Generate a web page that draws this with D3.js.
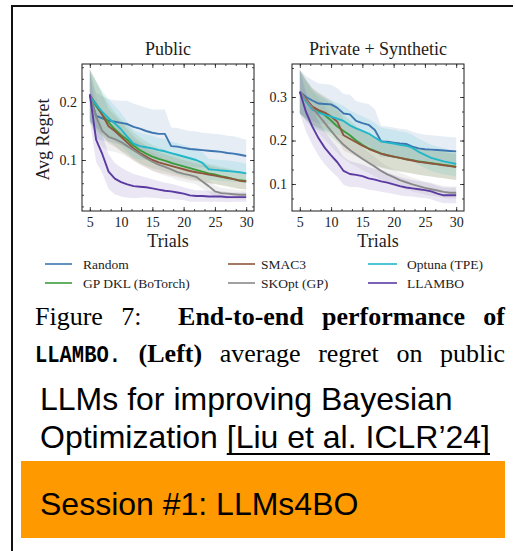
<!DOCTYPE html>
<html>
<head>
<meta charset="utf-8">
<script src="https://cdn.jsdelivr.net/npm/d3@7"></script>
<style>
  body { margin: 0; background: #fff; }
  svg { display: block; }
</style>
</head>
<body>
<svg id="fig" width="515" height="551"></svg>
<script>
// ---- data -------------------------------------------------------------
const trials = [5,6,7,8,9,10,11,12,13,14,15,16,17,18,19,20,21,22,23,24,25,26,27,28,29,30];
const xTickLabels = [5, 10, 15, 20, 25, 30];
const yTicksPublic = [0.1, 0.2];
const yTicksPrivate = [0.1, 0.2, 0.3];

const methods = ["Random", "SMAC3", "Optuna (TPE)", "GP DKL (BoTorch)", "SKOpt (GP)", "LLAMBO"];
const methodColors = ["#3d76b0", "#8f563d", "#22b6c9", "#3c9c3c", "#8a8a8a", "#5b3aa2"];

// Public benchmark: mean regret per trial
const pubRandom = [0.213,0.176,0.172,0.168,0.166,0.164,0.162,0.157,0.154,0.150,0.147,0.145,0.145,0.124,0.123,0.121,0.119,0.118,0.117,0.116,0.115,0.114,0.112,0.111,0.109,0.107];
const pubSMAC3  = [0.212,0.196,0.178,0.158,0.150,0.140,0.130,0.120,0.112,0.106,0.100,0.096,0.093,0.090,0.087,0.084,0.081,0.079,0.077,0.075,0.073,0.071,0.069,0.067,0.064,0.063];
const pubOptuna = [0.210,0.196,0.183,0.172,0.163,0.153,0.140,0.128,0.124,0.122,0.120,0.117,0.115,0.112,0.109,0.106,0.103,0.100,0.095,0.084,0.083,0.082,0.081,0.080,0.079,0.077];
const pubGPDKL  = [0.210,0.193,0.178,0.165,0.153,0.143,0.135,0.125,0.117,0.111,0.106,0.102,0.099,0.095,0.092,0.089,0.086,0.083,0.080,0.077,0.075,0.072,0.070,0.067,0.065,0.064];
const pubSKOpt  = [0.212,0.175,0.150,0.140,0.136,0.131,0.124,0.117,0.110,0.103,0.097,0.092,0.088,0.084,0.079,0.076,0.074,0.071,0.063,0.055,0.046,0.043,0.042,0.041,0.040,0.040];
const pubLLAMBO = [0.213,0.135,0.110,0.080,0.068,0.062,0.058,0.055,0.054,0.053,0.051,0.049,0.047,0.046,0.044,0.042,0.039,0.038,0.038,0.037,0.037,0.037,0.036,0.036,0.036,0.036];

// Public benchmark: half-width of the shaded band
const pubRandomSpread = [0.040,0.040,0.038,0.037,0.037,0.038,0.040,0.040,0.040,0.040,0.040,0.042,0.042,0.032,0.032,0.031,0.031,0.031,0.030,0.030,0.030,0.030,0.030,0.030,0.029,0.028];
const pubSMAC3Spread  = [0.045,0.040,0.035,0.030,0.027,0.025,0.023,0.021,0.020,0.019,0.018,0.018,0.017,0.017,0.016,0.016,0.016,0.015,0.015,0.015,0.015,0.014,0.014,0.014,0.014,0.014];
const pubOptunaSpread = [0.045,0.040,0.036,0.033,0.030,0.028,0.026,0.024,0.023,0.022,0.022,0.021,0.021,0.020,0.020,0.020,0.019,0.019,0.019,0.018,0.018,0.018,0.018,0.018,0.017,0.017];
const pubGPDKLSpread  = [0.045,0.042,0.037,0.032,0.029,0.027,0.025,0.023,0.022,0.021,0.020,0.019,0.019,0.018,0.018,0.018,0.017,0.017,0.017,0.016,0.016,0.016,0.016,0.016,0.015,0.015];
const pubSKOptSpread  = [0.045,0.035,0.028,0.024,0.022,0.020,0.019,0.018,0.017,0.016,0.016,0.015,0.015,0.014,0.014,0.013,0.013,0.013,0.012,0.011,0.010,0.009,0.009,0.008,0.008,0.008];
const pubLLAMBOSpread = [0.045,0.038,0.033,0.030,0.027,0.025,0.023,0.021,0.019,0.017,0.016,0.015,0.014,0.013,0.012,0.011,0.011,0.010,0.010,0.009,0.009,0.009,0.009,0.008,0.008,0.008];

// Private + synthetic benchmark: mean regret per trial
const prvRandom = [0.312,0.300,0.292,0.285,0.284,0.283,0.275,0.262,0.260,0.245,0.240,0.236,0.224,0.198,0.197,0.195,0.193,0.192,0.186,0.182,0.180,0.179,0.178,0.177,0.176,0.175];
const prvSMAC3  = [0.312,0.295,0.278,0.270,0.264,0.255,0.243,0.212,0.204,0.196,0.188,0.181,0.175,0.170,0.166,0.163,0.160,0.157,0.154,0.151,0.149,0.147,0.145,0.143,0.141,0.139];
const prvOptuna = [0.312,0.290,0.271,0.264,0.259,0.255,0.250,0.245,0.235,0.228,0.222,0.216,0.207,0.198,0.195,0.193,0.190,0.188,0.183,0.174,0.167,0.160,0.156,0.152,0.149,0.146];
const prvGPDKL  = [0.312,0.293,0.277,0.268,0.258,0.246,0.232,0.222,0.212,0.200,0.190,0.182,0.176,0.170,0.166,0.163,0.160,0.157,0.155,0.152,0.150,0.148,0.146,0.144,0.142,0.140];
const prvSKOpt  = [0.312,0.293,0.275,0.258,0.240,0.222,0.205,0.190,0.178,0.168,0.158,0.149,0.140,0.130,0.122,0.116,0.109,0.104,0.099,0.095,0.091,0.088,0.085,0.082,0.080,0.080];
const prvLLAMBO = [0.312,0.265,0.232,0.205,0.183,0.166,0.150,0.130,0.123,0.121,0.118,0.113,0.110,0.106,0.103,0.099,0.095,0.092,0.090,0.088,0.086,0.083,0.078,0.074,0.074,0.074];

// Private + synthetic benchmark: half-width of the shaded band
const prvRandomSpread = [0.050,0.048,0.047,0.046,0.046,0.045,0.045,0.045,0.045,0.046,0.047,0.048,0.048,0.036,0.035,0.035,0.034,0.034,0.034,0.034,0.033,0.033,0.033,0.032,0.032,0.032];
const prvSMAC3Spread  = [0.050,0.045,0.042,0.040,0.038,0.037,0.036,0.035,0.034,0.033,0.033,0.032,0.032,0.032,0.031,0.031,0.031,0.030,0.030,0.030,0.030,0.030,0.030,0.030,0.030,0.030];
const prvOptunaSpread = [0.050,0.045,0.042,0.040,0.038,0.037,0.036,0.035,0.034,0.034,0.034,0.033,0.033,0.032,0.032,0.032,0.031,0.031,0.030,0.030,0.030,0.030,0.030,0.030,0.029,0.029];
const prvGPDKLSpread  = [0.050,0.046,0.043,0.041,0.039,0.038,0.037,0.036,0.035,0.034,0.034,0.033,0.033,0.032,0.032,0.032,0.031,0.031,0.031,0.031,0.031,0.031,0.031,0.031,0.031,0.031];
const prvSKOptSpread  = [0.050,0.045,0.042,0.040,0.038,0.036,0.034,0.032,0.030,0.028,0.026,0.024,0.022,0.020,0.019,0.018,0.017,0.016,0.016,0.015,0.015,0.015,0.014,0.014,0.014,0.014];
const prvLLAMBOSpread = [0.050,0.045,0.042,0.040,0.038,0.036,0.034,0.032,0.030,0.028,0.027,0.026,0.025,0.024,0.023,0.022,0.021,0.020,0.019,0.019,0.018,0.018,0.018,0.018,0.018,0.018];

// ---- drawing ----------------------------------------------------------
const svg = d3.select("#fig");
const SERIF = "'Liberation Serif', 'Times New Roman', serif";
const SANS = "'Liberation Sans', Arial, sans-serif";
const INK = "#1c1c1c";

// slide frame (top and left edges)
svg.append("line").attr("x1", 12).attr("x2", 12).attr("y1", 5).attr("y2", 551)
  .attr("stroke", "#111").attr("stroke-width", 2);
svg.append("line").attr("x1", 11).attr("x2", 513).attr("y1", 6).attr("y2", 6)
  .attr("stroke", "#111").attr("stroke-width", 2);

function drawPanel(p) {
  const g = svg.append("g");
  const x = d3.scaleLinear().domain([3.75, 31.25]).range([p.left, p.right]);
  const y = d3.scaleLinear().domain(p.yDomain).range([p.bottom, p.top]);

  const clipId = "clip-" + p.id;
  svg.append("clipPath").attr("id", clipId).append("rect")
    .attr("x", p.left).attr("y", p.top)
    .attr("width", p.right - p.left).attr("height", p.bottom - p.top);
  const plot = g.append("g").attr("clip-path", `url(#${clipId})`);

  const series = methods.map((m, k) => ({ name: m, color: methodColors[k], mean: p.means[k], spread: p.spreads[k] }));

  const area = s => d3.area()
    .x((d, i) => x(trials[i]))
    .y0((d, i) => y(s.mean[i] - s.spread[i]))
    .y1((d, i) => y(s.mean[i] + s.spread[i]));
  series.forEach(s => {
    plot.append("path").datum(s.mean).attr("d", area(s))
      .attr("fill", s.color).attr("fill-opacity", 0.13).attr("stroke", "none");
  });

  const line = d3.line().x((d, i) => x(trials[i])).y(d => y(d));
  p.drawOrder.forEach(k => {
    const s = series[k];
    plot.append("path").datum(s.mean).attr("d", line)
      .attr("fill", "none").attr("stroke", s.color).attr("stroke-width", 1.9)
      .attr("stroke-linejoin", "round");
  });

  // inward ticks on all four sides
  const xMinor = d3.range(5, 31.3, 5 / 3).filter(v => v > 3.75 && v < 31.25);
  const yMinor = p.yMinor.filter(v => v > p.yDomain[0] && v < p.yDomain[1]);
  const addAxis = (axis, tx, ty) => {
    const a = g.append("g").attr("transform", `translate(${tx},${ty})`).call(axis);
    a.select(".domain").remove();
    a.selectAll("line").attr("stroke", INK).attr("stroke-width", 0.8);
    a.selectAll("text").attr("font-family", SERIF).attr("font-size", 14).attr("fill", INK);
    return a;
  };
  addAxis(d3.axisBottom(x).tickValues(xMinor).tickSize(-2).tickFormat(""), 0, p.bottom);
  addAxis(d3.axisTop(x).tickValues(xMinor).tickSize(-2).tickFormat(""), 0, p.top);
  addAxis(d3.axisBottom(x).tickValues(xTickLabels).tickSize(-4).tickPadding(6).tickFormat(d3.format("d")), 0, p.bottom);
  addAxis(d3.axisTop(x).tickValues(xTickLabels).tickSize(-4).tickFormat(""), 0, p.top);
  addAxis(d3.axisLeft(y).tickValues(yMinor).tickSize(-2).tickFormat(""), p.left, 0);
  addAxis(d3.axisRight(y).tickValues(yMinor).tickSize(-2).tickFormat(""), p.right, 0);
  addAxis(d3.axisLeft(y).tickValues(p.yTicks).tickSize(-4).tickPadding(5).tickFormat(d3.format(".1f")), p.left, 0);
  addAxis(d3.axisRight(y).tickValues(p.yTicks).tickSize(-4).tickFormat(""), p.right, 0);

  g.append("rect").attr("x", p.left).attr("y", p.top)
    .attr("width", p.right - p.left).attr("height", p.bottom - p.top)
    .attr("fill", "none").attr("stroke", INK).attr("stroke-width", 1);

  const cx = (p.left + p.right) / 2;
  g.append("text").attr("x", cx).attr("y", 55).attr("text-anchor", "middle")
    .attr("font-family", SERIF).attr("font-size", 18).attr("fill", INK).text(p.title);
  g.append("text").attr("x", cx).attr("y", 247).attr("text-anchor", "middle")
    .attr("font-family", SERIF).attr("font-size", 18).attr("fill", INK).text("Trials");
  if (p.yLabel) {
    g.append("text").attr("transform", `translate(49,${(p.top + p.bottom) / 2 + 2}) rotate(-90)`)
      .attr("text-anchor", "middle").attr("font-family", SERIF).attr("font-size", 18)
      .attr("fill", INK).text(p.yLabel);
  }
}

drawPanel({
  id: "public", title: "Public", yLabel: "Avg Regret",
  left: 82, right: 254, top: 64, bottom: 211,
  yDomain: [0.0121, 0.2655], yTicks: yTicksPublic,
  yMinor: d3.range(1, 14).map(k => k * 0.02),
  means: [pubRandom, pubSMAC3, pubOptuna, pubGPDKL, pubSKOpt, pubLLAMBO],
  spreads: [pubRandomSpread, pubSMAC3Spread, pubOptunaSpread, pubGPDKLSpread, pubSKOptSpread, pubLLAMBOSpread],
  drawOrder: [0, 3, 1, 2, 4, 5]
});

drawPanel({
  id: "private", title: "Private + Synthetic", yLabel: null,
  left: 292, right: 464, top: 64, bottom: 211,
  yDomain: [0.0379, 0.3759], yTicks: yTicksPrivate,
  yMinor: d3.range(1, 12).map(k => k * 0.1 / 3),
  means: [prvRandom, prvSMAC3, prvOptuna, prvGPDKL, prvSKOpt, prvLLAMBO],
  spreads: [prvRandomSpread, prvSMAC3Spread, prvOptunaSpread, prvGPDKLSpread, prvSKOptSpread, prvLLAMBOSpread],
  drawOrder: [0, 3, 1, 2, 4, 5]
});

// legend: three columns, two rows
const legendCols = [{ x1: 45, x2: 72, tx: 83 }, { x1: 228, x2: 255, tx: 261 }, { x1: 368, x2: 397, tx: 407 }];
const legendRows = [264, 283];
methods.forEach((m, k) => {
  const c = legendCols[k % 3], r = legendRows[Math.floor(k / 3)];
  svg.append("line").attr("x1", c.x1).attr("x2", c.x2).attr("y1", r).attr("y2", r)
    .attr("stroke", methodColors[k]).attr("stroke-width", 1.6);
  svg.append("text").attr("x", c.tx).attr("y", r + 4.5)
    .attr("font-family", SERIF).attr("font-size", 13.5).attr("fill", INK).text(m);
});

// justified caption lines
function justifyLine(words, x0, x1, baseline, gapWeights) {
  const nodes = words.map(w => {
    const t = svg.append("text").attr("y", baseline)
      .attr("font-family", w.family || SERIF).attr("font-size", w.size || 26)
      .attr("font-weight", w.bold ? "bold" : "normal").attr("fill", "#000").text(w.text);
    if (w.len) t.attr("textLength", w.len).attr("lengthAdjust", "spacingAndGlyphs");
    return t;
  });
  const widths = nodes.map((n, i) => words[i].len || n.node().getComputedTextLength());
  const weights = gapWeights || words.slice(1).map(() => 1);
  const unit = (x1 - x0 - d3.sum(widths)) / d3.sum(weights);
  let cx = x0;
  nodes.forEach((n, i) => {
    n.attr("x", cx);
    cx += widths[i] + (i < weights.length ? weights[i] * unit : 0);
  });
}

justifyLine([
  { text: "Figure" }, { text: "7:" },
  { text: "End-to-end", bold: true }, { text: "performance", bold: true }, { text: "of", bold: true }
], 35, 505, 325, [1, 2, 1, 1]);

justifyLine([
  { text: "LLAMBO.", family: "'Liberation Mono', 'Courier New', monospace", bold: true, size: 23, len: 86 },
  { text: "(Left)", bold: true },
  { text: "average" }, { text: "regret" }, { text: "on" }, { text: "public" }
], 35, 505, 362);

// slide text
svg.append("text").attr("x", 40).attr("y", 410)
  .attr("font-family", SANS).attr("font-size", 32).attr("fill", "#000")
  .text("LLMs for improving Bayesian");
const line2 = svg.append("text").attr("x", 40).attr("y", 448)
  .attr("font-family", SANS).attr("font-size", 32).attr("fill", "#000")
  .text("Optimization\u00a0");
const w2 = line2.node().getComputedTextLength();
const cite = svg.append("text").attr("x", 40 + w2).attr("y", 448)
  .attr("font-family", SANS).attr("font-size", 32).attr("fill", "#000")
  .text("[Liu et al. ICLR\u201924]");
const wc = cite.node().getComputedTextLength();
svg.append("line").attr("x1", 40 + w2).attr("x2", 40 + w2 + wc).attr("y1", 454).attr("y2", 454)
  .attr("stroke", "#000").attr("stroke-width", 2);

svg.append("rect").attr("x", 21).attr("y", 461).attr("width", 484).attr("height", 77)
  .attr("fill", "#ff9900");
svg.append("text").attr("x", 40).attr("y", 515)
  .attr("font-family", SANS).attr("font-size", 32).attr("fill", "#000")
  .text("Session #1: LLMs4BO");
</script>
</body>
</html>
